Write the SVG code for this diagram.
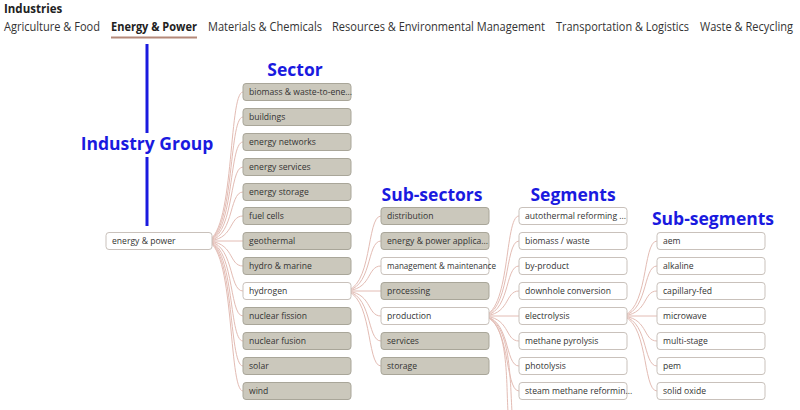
<svg xmlns="http://www.w3.org/2000/svg" width="800" height="410" viewBox="0 0 800 410">
<style>
text{font-family:"Open Sans","Noto Sans",sans-serif}
.tab{font-size:12px;fill:#333}
.lab{font-size:17.5px;font-weight:bold;fill:#1a1adf}
.g rect{fill:#cbc8bc;stroke:#a9a699;stroke-width:1}
.w rect{fill:#fff;stroke:#c9c1bb;stroke-width:1}
.n text{font-size:8.6px;fill:#333}
#conn path{fill:none;stroke:#e3bcb4;stroke-width:1}
</style>
<rect width="800" height="410" fill="#fff"/>
<text x="4" y="13" style="font-size:11.5px;font-weight:bold;fill:#222">Industries</text>
<text class="tab" x="4" y="31" textLength="96" lengthAdjust="spacingAndGlyphs">Agriculture &amp; Food</text>
<text class="tab" x="111" y="31" textLength="86" lengthAdjust="spacingAndGlyphs" style="font-weight:bold;fill:#222">Energy &amp; Power</text>
<text class="tab" x="208" y="31" textLength="114" lengthAdjust="spacingAndGlyphs">Materials &amp; Chemicals</text>
<text class="tab" x="332" y="31" textLength="213" lengthAdjust="spacingAndGlyphs">Resources &amp; Environmental Management</text>
<text class="tab" x="556" y="31" textLength="133" lengthAdjust="spacingAndGlyphs">Transportation &amp; Logistics</text>
<text class="tab" x="700" y="31" textLength="93" lengthAdjust="spacingAndGlyphs">Waste &amp; Recycling</text>
<line x1="111" y1="37.5" x2="197" y2="37.5" stroke="#b48878" stroke-width="2"/>
<line x1="147" y1="44" x2="147" y2="133" stroke="#1a1adf" stroke-width="3"/>
<line x1="147" y1="157" x2="147" y2="226" stroke="#1a1adf" stroke-width="3"/>
<text class="lab" x="147" y="150" text-anchor="middle">Industry Group</text>
<text class="lab" x="295" y="76" text-anchor="middle">Sector</text>
<text class="lab" x="432" y="201" text-anchor="middle">Sub-sectors</text>
<text class="lab" x="573" y="201" text-anchor="middle">Segments</text>
<text class="lab" x="713" y="225" text-anchor="middle">Sub-segments</text>
<g id="conn">
<path d="M205 241 C235 241 228 92 243 92"/>
<path d="M205 241 C235 241 228 117 243 117"/>
<path d="M205 241 C235 241 228 142 243 142"/>
<path d="M205 241 C235 241 228 167 243 167"/>
<path d="M205 241 C235 241 228 192 243 192"/>
<path d="M205 241 C235 241 228 216 243 216"/>
<path d="M212 241 L243 241"/>
<path d="M205 241 C235 241 228 266 243 266"/>
<path d="M205 241 C235 241 228 291 243 291"/>
<path d="M205 241 C235 241 228 316 243 316"/>
<path d="M205 241 C235 241 228 341 243 341"/>
<path d="M205 241 C235 241 228 366 243 366"/>
<path d="M205 241 C235 241 228 391 243 391"/>
<path d="M343 291 C373 291 366 216 381 216"/>
<path d="M343 291 C373 291 366 241 381 241"/>
<path d="M343 291 C373 291 366 266 381 266"/>
<path d="M351 291 L381 291"/>
<path d="M343 291 C373 291 366 316 381 316"/>
<path d="M343 291 C373 291 366 341 381 341"/>
<path d="M343 291 C373 291 366 366 381 366"/>
<path d="M481 316 C511 316 504 216 519 216"/>
<path d="M481 316 C511 316 504 241 519 241"/>
<path d="M481 316 C511 316 504 266 519 266"/>
<path d="M481 316 C511 316 504 291 519 291"/>
<path d="M489 316 L519 316"/>
<path d="M481 316 C511 316 504 341 519 341"/>
<path d="M481 316 C511 316 504 366 519 366"/>
<path d="M481 316 C511 316 504 391 519 391"/>
<path d="M481 316 C511 316 510 380 512 412"/>
<path d="M481 316 C509 316 506 380 508 412"/>
<path d="M619 316 C649 316 642 241 657 241"/>
<path d="M619 316 C649 316 642 266 657 266"/>
<path d="M619 316 C649 316 642 291 657 291"/>
<path d="M627 316 L657 316"/>
<path d="M619 316 C649 316 642 341 657 341"/>
<path d="M619 316 C649 316 642 366 657 366"/>
<path d="M619 316 C649 316 642 391 657 391"/>
</g>
<g id="root" class="n w"><rect x="106" y="232.5" width="106" height="17" rx="3"/><text x="112" y="244">energy &amp; power</text></g>
<g id="s1" class="n g"><rect x="243" y="83.5" width="108" height="17" rx="3"/><text x="249" y="95">biomass &amp; waste-to-ene...</text></g>
<g id="s2" class="n g"><rect x="243" y="108.5" width="108" height="17" rx="3"/><text x="249" y="120">buildings</text></g>
<g id="s3" class="n g"><rect x="243" y="133.5" width="108" height="17" rx="3"/><text x="249" y="145">energy networks</text></g>
<g id="s4" class="n g"><rect x="243" y="158.5" width="108" height="17" rx="3"/><text x="249" y="170">energy services</text></g>
<g id="s5" class="n g"><rect x="243" y="183.5" width="108" height="17" rx="3"/><text x="249" y="195">energy storage</text></g>
<g id="s6" class="n g"><rect x="243" y="207.5" width="108" height="17" rx="3"/><text x="249" y="219">fuel cells</text></g>
<g id="s7" class="n g"><rect x="243" y="232.5" width="108" height="17" rx="3"/><text x="249" y="244">geothermal</text></g>
<g id="s8" class="n g"><rect x="243" y="257.5" width="108" height="17" rx="3"/><text x="249" y="269">hydro &amp; marine</text></g>
<g id="s9" class="n w"><rect x="243" y="282.5" width="108" height="17" rx="3"/><text x="249" y="294">hydrogen</text></g>
<g id="s10" class="n g"><rect x="243" y="307.5" width="108" height="17" rx="3"/><text x="249" y="319">nuclear fission</text></g>
<g id="s11" class="n g"><rect x="243" y="332.5" width="108" height="17" rx="3"/><text x="249" y="344">nuclear fusion</text></g>
<g id="s12" class="n g"><rect x="243" y="357.5" width="108" height="17" rx="3"/><text x="249" y="369">solar</text></g>
<g id="s13" class="n g"><rect x="243" y="382.5" width="108" height="17" rx="3"/><text x="249" y="394">wind</text></g>
<g id="ss1" class="n g"><rect x="381" y="207.5" width="108" height="17" rx="3"/><text x="387" y="219">distribution</text></g>
<g id="ss2" class="n g"><rect x="381" y="232.5" width="108" height="17" rx="3"/><text x="387" y="244">energy &amp; power applica...</text></g>
<g id="ss3" class="n w"><rect x="381" y="257.5" width="108" height="17" rx="3"/><text x="387" y="269" textLength="109" lengthAdjust="spacingAndGlyphs">management &amp; maintenance</text></g>
<g id="ss4" class="n g"><rect x="381" y="282.5" width="108" height="17" rx="3"/><text x="387" y="294">processing</text></g>
<g id="ss5" class="n w"><rect x="381" y="307.5" width="108" height="17" rx="3"/><text x="387" y="319">production</text></g>
<g id="ss6" class="n g"><rect x="381" y="332.5" width="108" height="17" rx="3"/><text x="387" y="344">services</text></g>
<g id="ss7" class="n g"><rect x="381" y="357.5" width="108" height="17" rx="3"/><text x="387" y="369">storage</text></g>
<g id="sg1" class="n w"><rect x="519" y="207.5" width="108" height="17" rx="3"/><text x="525" y="219">autothermal reforming ...</text></g>
<g id="sg2" class="n w"><rect x="519" y="232.5" width="108" height="17" rx="3"/><text x="525" y="244">biomass / waste</text></g>
<g id="sg3" class="n w"><rect x="519" y="257.5" width="108" height="17" rx="3"/><text x="525" y="269">by-product</text></g>
<g id="sg4" class="n w"><rect x="519" y="282.5" width="108" height="17" rx="3"/><text x="525" y="294">downhole conversion</text></g>
<g id="sg5" class="n w"><rect x="519" y="307.5" width="108" height="17" rx="3"/><text x="525" y="319">electrolysis</text></g>
<g id="sg6" class="n w"><rect x="519" y="332.5" width="108" height="17" rx="3"/><text x="525" y="344">methane pyrolysis</text></g>
<g id="sg7" class="n w"><rect x="519" y="357.5" width="108" height="17" rx="3"/><text x="525" y="369">photolysis</text></g>
<g id="sg8" class="n w"><rect x="519" y="382.5" width="108" height="17" rx="3"/><text x="525" y="394">steam methane reformin...</text></g>
<g id="b1" class="n w"><rect x="657" y="232.5" width="108" height="17" rx="3"/><text x="663" y="244">aem</text></g>
<g id="b2" class="n w"><rect x="657" y="257.5" width="108" height="17" rx="3"/><text x="663" y="269">alkaline</text></g>
<g id="b3" class="n w"><rect x="657" y="282.5" width="108" height="17" rx="3"/><text x="663" y="294">capillary-fed</text></g>
<g id="b4" class="n w"><rect x="657" y="307.5" width="108" height="17" rx="3"/><text x="663" y="319">microwave</text></g>
<g id="b5" class="n w"><rect x="657" y="332.5" width="108" height="17" rx="3"/><text x="663" y="344">multi-stage</text></g>
<g id="b6" class="n w"><rect x="657" y="357.5" width="108" height="17" rx="3"/><text x="663" y="369">pem</text></g>
<g id="b7" class="n w"><rect x="657" y="382.5" width="108" height="17" rx="3"/><text x="663" y="394">solid oxide</text></g>
</svg>
